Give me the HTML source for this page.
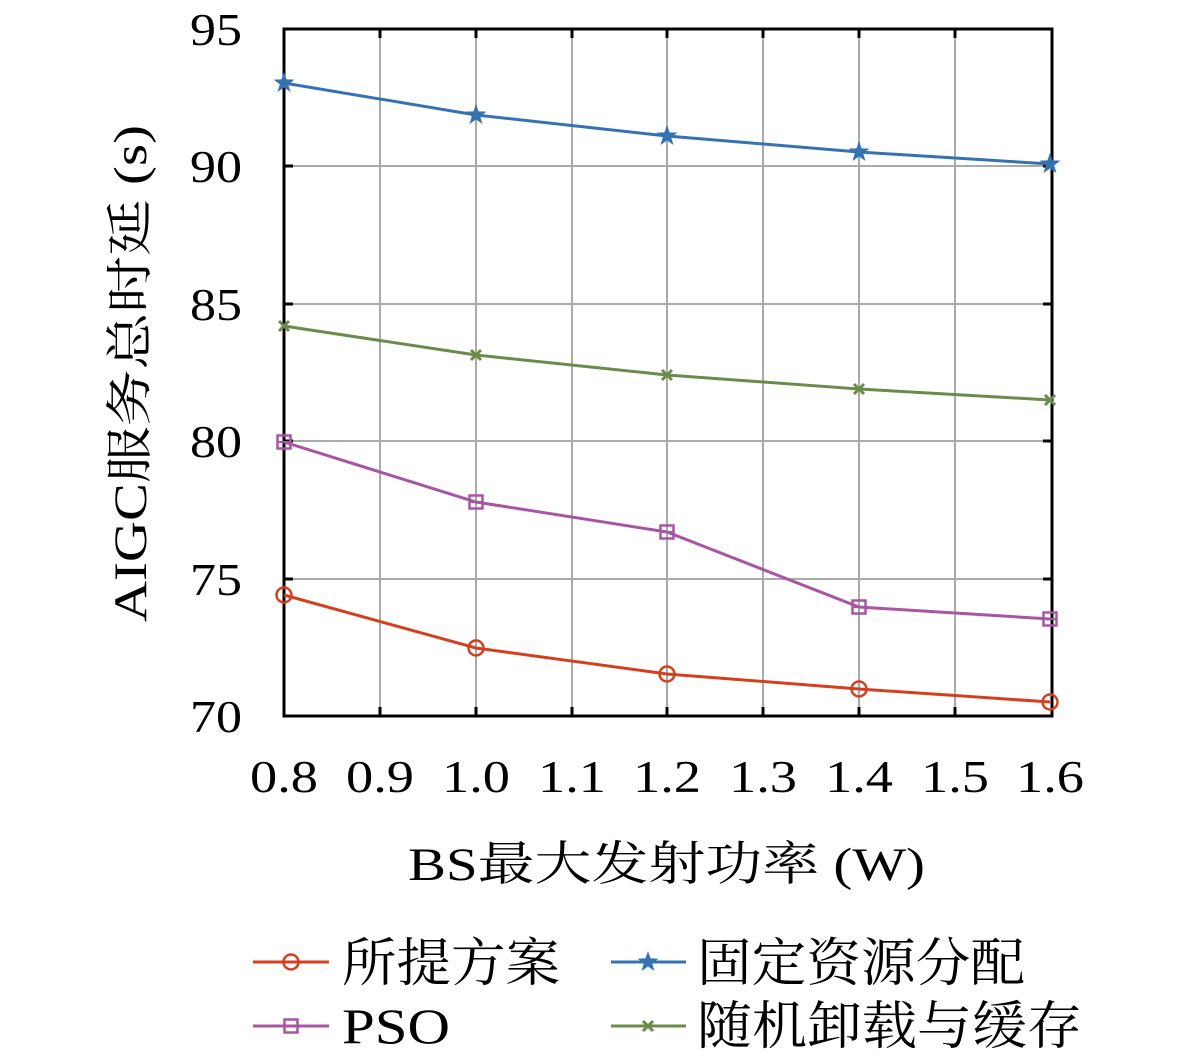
<!DOCTYPE html>
<html><head><meta charset="utf-8"><style>
html,body{margin:0;padding:0;background:#fff;}
svg{display:block;}
text{font-family:"Liberation Serif","Noto Serif CJK SC",serif;fill:#000;}
</style></head><body>
<svg width="1181" height="1063" viewBox="0 0 1181 1063" xmlns="http://www.w3.org/2000/svg">
<defs>
<g id="circ"><circle r="7.5" fill="none" stroke="#d4401e" stroke-width="2.5"/></g>
<g id="sq"><rect x="-6.5" y="-6.5" width="13" height="13" fill="none" stroke="#a855a4" stroke-width="2.5"/><line x1="-6" y1="0" x2="6" y2="0" stroke="#a855a4" stroke-width="2"/></g>
<g id="star"><polygon points="0,-11 2.6,-3.6 10.5,-3.4 4.2,1.4 6.5,9 0,4.5 -6.5,9 -4.2,1.4 -10.5,-3.4 -2.6,-3.6" fill="#3472b0"/></g>
<g id="x"><path d="M-5,-5L5,5M-5,5L5,-5" stroke="#6a8c4a" stroke-width="3"/></g>
</defs>
<g stroke="#aaa" stroke-width="2">
<line x1="380" y1="29" x2="380" y2="716"/><line x1="476" y1="29" x2="476" y2="716"/>
<line x1="572" y1="29" x2="572" y2="716"/><line x1="667" y1="29" x2="667" y2="716"/>
<line x1="763" y1="29" x2="763" y2="716"/><line x1="859" y1="29" x2="859" y2="716"/>
<line x1="955" y1="29" x2="955" y2="716"/>
<line x1="284" y1="166" x2="1052" y2="166"/><line x1="284" y1="304" x2="1052" y2="304"/>
<line x1="284" y1="441" x2="1052" y2="441"/><line x1="284" y1="579" x2="1052" y2="579"/>
</g>
<g stroke="#000" stroke-width="3">
<path d="M380,29v9M476,29v9M572,29v9M667,29v9M763,29v9M859,29v9M955,29v9"/>
<path d="M380,716v-9M476,716v-9M572,716v-9M667,716v-9M763,716v-9M859,716v-9M955,716v-9"/>
<path d="M284,166h9M284,304h9M284,441h9M284,579h9"/>
<path d="M1052,166h-9M1052,304h-9M1052,441h-9M1052,579h-9"/>
<rect x="284" y="29" width="768" height="687" fill="none"/>
</g>
<polyline fill="none" stroke="#3472b0" stroke-width="3" points="284,83 476,115 667,136 859,152 1050,164"/>
<polyline fill="none" stroke="#6a8c4a" stroke-width="3" points="284,326 476,355 667,375 859,389 1050,400"/>
<polyline fill="none" stroke="#a855a4" stroke-width="3" points="284,442 476,502 667,532 859,607 1050,619"/>
<polyline fill="none" stroke="#d4401e" stroke-width="3" points="284,595 476,648 667,674 859,689 1050,702"/>
<use href="#star" x="284" y="83"/><use href="#star" x="476" y="115"/><use href="#star" x="667" y="136"/><use href="#star" x="859" y="152"/><use href="#star" x="1050" y="164"/>
<use href="#x" x="284" y="326"/><use href="#x" x="476" y="355"/><use href="#x" x="667" y="375"/><use href="#x" x="859" y="389"/><use href="#x" x="1050" y="400"/>
<use href="#sq" x="284" y="442"/><use href="#sq" x="476" y="502"/><use href="#sq" x="667" y="532"/><use href="#sq" x="859" y="607"/><use href="#sq" x="1050" y="619"/>
<use href="#circ" x="284" y="595"/><use href="#circ" x="476" y="648"/><use href="#circ" x="667" y="674"/><use href="#circ" x="859" y="689"/><use href="#circ" x="1050" y="702"/>
<g font-size="45" lengthAdjust="spacingAndGlyphs">
<text x="190" y="45" textLength="52" lengthAdjust="spacingAndGlyphs">95</text><text x="190" y="182" textLength="52" lengthAdjust="spacingAndGlyphs">90</text><text x="190" y="320" textLength="52" lengthAdjust="spacingAndGlyphs">85</text>
<text x="190" y="457" textLength="52" lengthAdjust="spacingAndGlyphs">80</text><text x="190" y="595" textLength="52" lengthAdjust="spacingAndGlyphs">75</text><text x="190" y="732" textLength="52" lengthAdjust="spacingAndGlyphs">70</text>
</g>
<g font-size="45">
<text x="250" y="792" textLength="68" lengthAdjust="spacingAndGlyphs">0.8</text><text x="346" y="792" textLength="68" lengthAdjust="spacingAndGlyphs">0.9</text><text x="442" y="792" textLength="68" lengthAdjust="spacingAndGlyphs">1.0</text>
<text x="538" y="792" textLength="68" lengthAdjust="spacingAndGlyphs">1.1</text><text x="633" y="792" textLength="68" lengthAdjust="spacingAndGlyphs">1.2</text><text x="729" y="792" textLength="68" lengthAdjust="spacingAndGlyphs">1.3</text>
<text x="825" y="792" textLength="68" lengthAdjust="spacingAndGlyphs">1.4</text><text x="921" y="792" textLength="68" lengthAdjust="spacingAndGlyphs">1.5</text><text x="1016" y="792" textLength="68" lengthAdjust="spacingAndGlyphs">1.6</text>
</g>
<text x="408" y="880" font-size="47" textLength="517" lengthAdjust="spacingAndGlyphs">BS最大发射功率 (W)</text>
<text transform="translate(146,622) rotate(-90)" font-size="47" textLength="497" lengthAdjust="spacingAndGlyphs">AIGC服务总时延 (s)</text>
<line x1="253" y1="962" x2="329" y2="962" stroke="#d4401e" stroke-width="3"/><use href="#circ" x="291" y="962"/>
<text x="342" y="981" font-size="52" textLength="218" lengthAdjust="spacingAndGlyphs">所提方案</text>
<line x1="253" y1="1026" x2="329" y2="1026" stroke="#a855a4" stroke-width="3"/><use href="#sq" x="291" y="1026"/>
<text x="342" y="1043" font-size="50" textLength="108" lengthAdjust="spacingAndGlyphs">PSO</text>
<line x1="611" y1="962" x2="686" y2="962" stroke="#3472b0" stroke-width="3"/><use href="#star" x="648" y="962"/>
<text x="697" y="981" font-size="52" textLength="328" lengthAdjust="spacingAndGlyphs">固定资源分配</text>
<line x1="611" y1="1026" x2="686" y2="1026" stroke="#6a8c4a" stroke-width="3"/><use href="#x" x="648" y="1026"/>
<text x="697" y="1044" font-size="52" textLength="385" lengthAdjust="spacingAndGlyphs">随机卸载与缓存</text>
</svg>
</body></html>
